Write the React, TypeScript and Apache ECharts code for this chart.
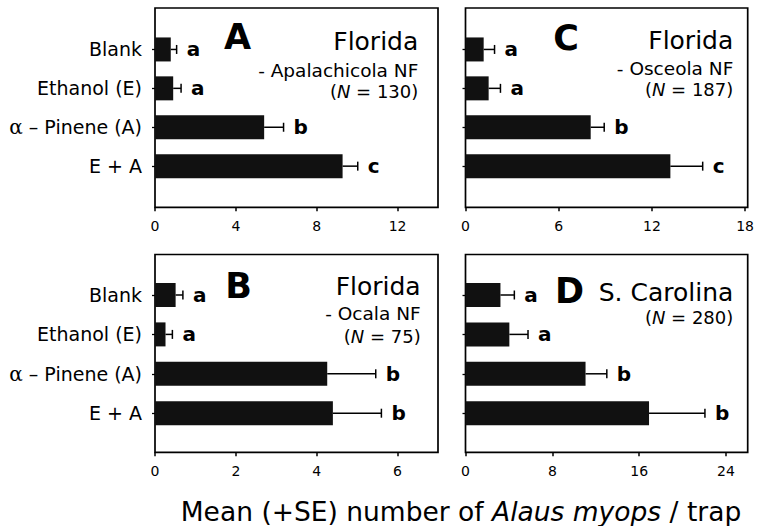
import React, { useEffect, useRef } from 'react';
import * as echarts from 'echarts';

const categories = ['Blank', 'Ethanol (E)', 'α – Pinene (A)', 'E + A'];

// Panel A – Florida, Apalachicola NF
const meanA = [0.78, 0.9, 5.4, 9.28];
const seA = [0.29, 0.39, 0.96, 0.75];
const lettersA = ['a', 'a', 'b', 'c'];
const ticksA = [0, 4, 8, 12];

// Panel C – Florida, Osceola NF
const meanC = [1.17, 1.49, 8.06, 13.19];
const seC = [0.7, 0.76, 0.87, 2.08];
const lettersC = ['a', 'a', 'b', 'c'];
const ticksC = [0, 6, 12, 18];

// Panel B – Florida, Ocala NF
const meanB = [0.51, 0.26, 4.26, 4.4];
const seB = [0.18, 0.17, 1.2, 1.2];
const lettersB = ['a', 'a', 'b', 'b'];
const ticksB = [0, 2, 4, 6];

// Panel D – S. Carolina
const meanD = [3.22, 4.04, 11.06, 16.91];
const seD = [1.28, 1.72, 1.96, 5.15];
const lettersD = ['a', 'a', 'b', 'b'];
const ticksD = [0, 8, 16, 24];

const FONT = 'DejaVu Sans';

const panels = [
  { mean: meanA, se: seA, letters: lettersA, ticks: ticksA, max: 14, left: 155, width: 283, frameTop: 8, frameH: 199.3, dataTop: 30, dataH: 155.6, labels: true },
  { mean: meanC, se: seC, letters: lettersC, ticks: ticksC, max: 18, left: 465.5, width: 282.2, frameTop: 8, frameH: 199.3, dataTop: 30, dataH: 155.6, labels: false },
  { mean: meanB, se: seB, letters: lettersB, ticks: ticksB, max: 7, left: 155, width: 283, frameTop: 254.5, frameH: 197.8, dataTop: 275.3, dataH: 157.6, labels: true },
  { mean: meanD, se: seD, letters: lettersD, ticks: ticksD, max: 26, left: 465.5, width: 282.2, frameTop: 254.5, frameH: 197.8, dataTop: 275.3, dataH: 157.6, labels: false },
];

function txt(text: string, x: number, y: number, size: number, align: string, opts: any = {}) {
  return {
    type: 'text',
    x,
    y,
    silent: true,
    style: {
      text,
      fill: '#000',
      fontSize: size,
      fontFamily: FONT,
      fontWeight: opts.bold ? 'bold' : 'normal',
      lineHeight: opts.lineHeight,
      align,
      textAlign: align,
      verticalAlign: 'middle',
      textVerticalAlign: 'middle',
      rich: opts.rich,
    },
  };
}

const italicRich = (size: number, lh?: number) => ({
  i: { fontStyle: 'italic', fontSize: size, fontFamily: FONT, fill: '#000', color: '#000', lineHeight: lh },
});

function makeRender(letters: string[]) {
  return (params: any, api: any) => {
    const mean = api.value(0);
    const cat = api.value(1);
    const up = api.value(2);
    const p0 = api.coord([mean, cat]);
    const p1 = api.coord([up, cat]);
    const ls = { stroke: '#000', lineWidth: 1.5 };
    return {
      type: 'group',
      children: [
        { type: 'line', shape: { x1: p0[0], y1: p0[1], x2: p1[0], y2: p1[1] }, style: ls },
        { type: 'line', shape: { x1: p1[0], y1: p1[1] - 4.5, x2: p1[0], y2: p1[1] + 4.5 }, style: ls },
        {
          type: 'text',
          x: p1[0] + 10,
          y: p1[1],
          style: {
            text: letters[params.dataIndex],
            fill: '#000',
            fontSize: 20,
            fontWeight: 'bold',
            fontFamily: FONT,
            align: 'left',
            textAlign: 'left',
            verticalAlign: 'middle',
            textVerticalAlign: 'middle',
          },
        },
      ],
    };
  };
}

export default function App() {
  const ref = useRef<HTMLDivElement>(null);
  useEffect(() => {
    if (!ref.current) return;
    const chart = echarts.init(ref.current, null, { renderer: 'svg' });
    const grid: any[] = [];
    const xAxis: any[] = [];
    const yAxis: any[] = [];
    const series: any[] = [];
    panels.forEach((p, k) => {
      const fi = 2 * k;
      const di = 2 * k + 1;
      const offset = p.frameTop + p.frameH - (p.dataTop + p.dataH);
      grid.push({ left: p.left, width: p.width, top: p.frameTop, height: p.frameH, show: true, borderColor: '#000', borderWidth: 1.7, backgroundColor: 'transparent' });
      grid.push({ left: p.left, width: p.width, top: p.dataTop, height: p.dataH, show: false });
      xAxis.push({ type: 'value', gridIndex: fi, min: 0, max: p.max, show: false });
      yAxis.push({ type: 'value', gridIndex: fi, min: 0, max: 1, show: false });
      xAxis.push({
        type: 'value',
        gridIndex: di,
        min: 0,
        max: p.max,
        position: 'bottom',
        offset,
        axisLine: { show: false },
        axisTick: { show: true, length: 4, customValues: p.ticks, lineStyle: { color: '#000', width: 1.5 } },
        axisLabel: { customValues: p.ticks, fontSize: 14, fontFamily: FONT, color: '#000', margin: 12 },
        splitLine: { show: false },
      });
      yAxis.push({
        type: 'category',
        gridIndex: di,
        data: categories,
        inverse: true,
        axisLine: { show: false },
        axisTick: { show: true, alignWithLabel: true, length: 3, lineStyle: { color: '#000', width: 1.3 } },
        axisLabel: {
          show: p.labels,
          fontSize: 19,
          fontFamily: FONT,
          color: '#000',
          margin: 13,
          formatter: (v: string) => (v.startsWith('α') ? '{g|α}' + v.slice(1) : v),
          rich: { g: { fontFamily: 'DejaVu Serif', fontSize: 20, color: '#000' } },
        },
        splitLine: { show: false },
      });
      series.push({
        type: 'bar',
        xAxisIndex: di,
        yAxisIndex: di,
        data: p.mean,
        barWidth: 24,
        itemStyle: { color: '#111' },
        silent: true,
      });
      series.push({
        type: 'custom',
        xAxisIndex: di,
        yAxisIndex: di,
        data: p.mean.map((m, i) => [m, i, m + p.se[i]]),
        encode: { x: [0, 2], y: 1 },
        renderItem: makeRender(p.letters),
        z: 5,
        silent: true,
      });
    });

    const graphic = [
      txt('A', 224, 37, 35, 'left', { bold: true }),
      txt('Florida', 418.3, 41.7, 25, 'right'),
      txt('- Apalachicola NF', 418.3, 70.5, 18.5, 'right', { lineHeight: 18 }),
      txt('({i|N} = 130)', 418.3, 91, 18, 'right', { rich: italicRich(18, 18), lineHeight: 18 }),
      txt('C', 553.3, 37.5, 35, 'left', { bold: true }),
      txt('Florida', 733.3, 40, 25, 'right'),
      txt('- Osceola NF', 733.3, 68.3, 18.5, 'right', { lineHeight: 18 }),
      txt('({i|N} = 187)', 733.3, 89, 18, 'right', { rich: italicRich(18, 18), lineHeight: 18 }),
      txt('B', 225.3, 286, 35, 'left', { bold: true }),
      txt('Florida', 420.7, 286.3, 25, 'right'),
      txt('- Ocala NF', 420.7, 313, 18.5, 'right', { lineHeight: 18 }),
      txt('({i|N} = 75)', 420.7, 336, 18, 'right', { rich: italicRich(18, 18), lineHeight: 18 }),
      txt('D', 555, 291.3, 35, 'left', { bold: true }),
      txt('S. Carolina', 733.3, 292.5, 25, 'right'),
      txt('({i|N} = 280)', 733.3, 317.5, 18, 'right', { rich: italicRich(18, 18), lineHeight: 18 }),
      txt('Mean (+SE) number of {i|Alaus myops} / trap', 461, 511.5, 26.5, 'center', { rich: italicRich(26.5, 27), lineHeight: 27 }),
    ];

    chart.setOption({
      animation: false,
      backgroundColor: '#fff',
      grid,
      xAxis,
      yAxis,
      series,
      graphic,
    });
    return () => chart.dispose();
  }, []);
  return <div ref={ref} style={{ position: 'fixed', left: 0, top: 0, width: 757, height: 526 }} />;
}
